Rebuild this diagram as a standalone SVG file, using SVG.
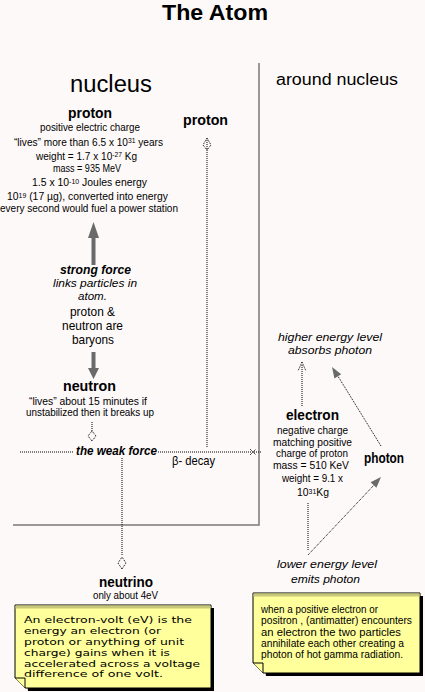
<svg xmlns="http://www.w3.org/2000/svg" width="425" height="692" viewBox="0 0 425 692">
<style>
text{font-family:"Liberation Sans",Arial,sans-serif;fill:#000}
.t{font-size:10.5px}
.b{font-weight:bold;font-size:14.5px}
.i{font-style:italic;font-size:11.5px}
.m{font-size:13px}
.n{font-family:"DejaVu Sans",Verdana,sans-serif;font-size:9.5px}
.n2{font-size:10px}
.sup{font-size:7px}
.dot{fill:none;stroke:#000;stroke-width:1;stroke-dasharray:1 1}
.sep{fill:none;stroke:#7a7a7a;stroke-width:1.5}
.thick{fill:#6a6a6a}
.note{fill:#ffff9c;stroke:#000;stroke-width:1}
.shadow{fill:#000}
.band{fill:#c8c87a}
</style>
<rect width="425" height="692" fill="#fdf9f9"/>

<text x="215" y="20" text-anchor="middle" font-weight="bold" font-size="22" textLength="106" lengthAdjust="spacingAndGlyphs">The Atom</text>
<text x="70" y="92" font-size="23" textLength="82" lengthAdjust="spacingAndGlyphs">nucleus</text>
<text x="276" y="85" font-size="16" textLength="122" lengthAdjust="spacingAndGlyphs">around nucleus</text>

<g id="connectors">
  <path class="sep" d="M259,63 V525 H13"/>
  <path class="dot" d="M207,447 V140"/>
  <path class="dot" d="M207,138 L203,145 L207,150 L211,145 Z"/>
  <path class="thick" d="M93.5,222 L99,238 L95.5,238 L95.5,265 L91.5,265 L91.5,238 L88,238 Z"/>
  <path class="thick" d="M91.5,352 L95.5,352 L95.5,368 L99,368 L93.5,379 L88,368 L91.5,368 Z"/>
  <path class="dot" d="M92,422 V432"/>
  <path class="dot" d="M92,441 L88,436 L92,431 L96,436 Z"/>
  <path class="dot" d="M20,452 H74 M158,452 H262"/>
  <path class="dot" d="M250,449 L256,455 M250,455 L256,449"/>
  <path class="dot" d="M122,458 V556"/>
  <path class="dot" d="M122,569 L118,563 L122,557 L126,563 Z"/>
  <path class="dot" d="M302,406 V364"/>
  <path class="dot" d="M302,362 L298,371 M302,362 L306,371"/>
  <path class="dot" d="M308,503 V550"/>
  <path class="dot" d="M381,446 L336,373"/>
  <polygon class="thick" points="332,367 341.2,374.3 334.4,378.5"/>
  <path class="dot" d="M308,555 L375,484"/>
  <polygon class="thick" points="381,477 376.4,487.7 370.6,482.3"/>
</g>

<g id="proton-nucleus">
  <text class="b" x="90" y="118" text-anchor="middle" textLength="44" lengthAdjust="spacingAndGlyphs">proton</text>
  <text class="t" x="90" y="131" text-anchor="middle" textLength="100" lengthAdjust="spacingAndGlyphs">positive electric charge</text>
  <text class="t" x="14" y="145.5" textLength="149" lengthAdjust="spacingAndGlyphs">“lives” more than 6.5 x 10<tspan class="sup" dy="-2.5">31</tspan><tspan dy="2.5"> years</tspan></text>
  <text class="t" x="36" y="159.5" textLength="101" lengthAdjust="spacingAndGlyphs">weight = 1.7 x 10<tspan class="sup" dy="-2.5">-27</tspan><tspan dy="2.5"> Kg</tspan></text>
  <text class="t" x="53" y="172" textLength="68" lengthAdjust="spacingAndGlyphs">mass = 935 MeV</text>
  <text class="t" x="32" y="186" textLength="115" lengthAdjust="spacingAndGlyphs">1.5 x 10<tspan class="sup" dy="-2.5">-10</tspan><tspan dy="2.5"> Joules energy</tspan></text>
  <text class="t" x="7" y="200" textLength="161" lengthAdjust="spacingAndGlyphs">10<tspan class="sup" dy="-2.5">19</tspan><tspan dy="2.5">  (17 µg), converted into energy</tspan></text>
  <text class="t" x="0" y="212" textLength="178" lengthAdjust="spacingAndGlyphs">every second would fuel a power station</text>
</g>

<g id="proton-right">
  <text class="b" x="183" y="125" textLength="45" lengthAdjust="spacingAndGlyphs">proton</text>
</g>

<g id="strong-force">
  <text x="60" y="274" font-weight="bold" font-style="italic" font-size="12.5" textLength="71" lengthAdjust="spacingAndGlyphs">strong force</text>
  <text class="i" x="53" y="287" textLength="84" lengthAdjust="spacingAndGlyphs">links particles in</text>
  <text class="i" x="78" y="300" textLength="29" lengthAdjust="spacingAndGlyphs">atom.</text>
  <text class="m" x="70" y="316" textLength="45" lengthAdjust="spacingAndGlyphs">proton &amp;</text>
  <text class="m" x="62" y="330" textLength="61" lengthAdjust="spacingAndGlyphs">neutron are</text>
  <text class="m" x="72" y="344" textLength="42" lengthAdjust="spacingAndGlyphs">baryons</text>
</g>

<g id="neutron">
  <text class="b" x="63" y="391" textLength="53" lengthAdjust="spacingAndGlyphs">neutron</text>
  <text class="t" x="29" y="405" textLength="118" lengthAdjust="spacingAndGlyphs">“lives” about 15 minutes if</text>
  <text class="t" x="26" y="416" textLength="128" lengthAdjust="spacingAndGlyphs">unstabilized then it breaks up</text>
</g>

<g id="weak-force">
  <text x="76" y="455" font-weight="bold" font-style="italic" font-size="12.5" textLength="81" lengthAdjust="spacingAndGlyphs">the weak force</text>
</g>

<g id="beta-decay">
  <text class="m" x="172" y="465" textLength="43" lengthAdjust="spacingAndGlyphs">β- decay</text>
</g>

<g id="neutrino">
  <text class="b" x="99" y="587" textLength="54" lengthAdjust="spacingAndGlyphs">neutrino</text>
  <text class="t" x="93" y="599" textLength="65" lengthAdjust="spacingAndGlyphs">only about 4eV</text>
</g>

<g id="note-ev">
  <path class="shadow" d="M18,608 H214 V691 H28 Z"/>
  <path class="note" d="M15,605 H211 V688 H25 L15,678 Z"/>
  <rect class="band" x="15.5" y="605.5" width="195" height="3"/>
  <path d="M15,678 L25,678 L25,688" fill="#ffff9c" stroke="#000"/>
  <text class="n" x="24" y="623" textLength="168" lengthAdjust="spacingAndGlyphs">An electron-volt (eV)  is the</text>
  <text class="n" x="24" y="634" textLength="137" lengthAdjust="spacingAndGlyphs">energy an electron (or</text>
  <text class="n" x="24" y="645" textLength="160" lengthAdjust="spacingAndGlyphs">proton or anything of unit</text>
  <text class="n" x="24" y="656" textLength="146" lengthAdjust="spacingAndGlyphs">charge) gains when it is</text>
  <text class="n" x="24" y="667" textLength="176" lengthAdjust="spacingAndGlyphs">accelerated across a voltage</text>
  <text class="n" x="24" y="677" textLength="139" lengthAdjust="spacingAndGlyphs">difference of one volt.</text>
</g>

<g id="electron">
  <text class="b" x="286" y="420" textLength="53" lengthAdjust="spacingAndGlyphs">electron</text>
  <text class="t" x="277" y="434" textLength="71" lengthAdjust="spacingAndGlyphs">negative charge</text>
  <text class="t" x="273" y="446" textLength="79" lengthAdjust="spacingAndGlyphs">matching positive</text>
  <text class="t" x="276" y="457" textLength="72" lengthAdjust="spacingAndGlyphs">charge of proton</text>
  <text class="t" x="273" y="469" textLength="76" lengthAdjust="spacingAndGlyphs">mass = 510  KeV</text>
  <text class="t" x="282" y="482" textLength="61" lengthAdjust="spacingAndGlyphs">weight = 9.1 x</text>
  <text class="t" x="297" y="496" textLength="32" lengthAdjust="spacingAndGlyphs">10<tspan class="sup" dy="-2.5">31</tspan><tspan dy="2.5">Kg</tspan></text>
</g>

<g id="photon">
  <text class="b" x="364" y="463" textLength="40" lengthAdjust="spacingAndGlyphs">photon</text>
</g>

<g id="higher-level">
  <text class="i" x="278" y="341" textLength="104" lengthAdjust="spacingAndGlyphs">higher energy level</text>
  <text class="i" x="288" y="354" textLength="84" lengthAdjust="spacingAndGlyphs">absorbs photon</text>
</g>

<g id="lower-level">
  <text class="i" x="277" y="568" textLength="100" lengthAdjust="spacingAndGlyphs">lower energy level</text>
  <text class="i" x="291" y="583" textLength="69" lengthAdjust="spacingAndGlyphs">emits photon</text>
</g>

<g id="note-positron">
  <path class="shadow" d="M256,596 H423 V676 H266 Z"/>
  <path class="note" d="M253,593 H420 V673 H263 L253,663 Z"/>
  <rect class="band" x="253.5" y="593.5" width="166" height="3"/>
  <path d="M253,663 L263,663 L263,673" fill="#ffff9c" stroke="#000"/>
  <text class="n2" x="261" y="613" textLength="117" lengthAdjust="spacingAndGlyphs">when a positive electron or</text>
  <text class="n2" x="261" y="624" textLength="151" lengthAdjust="spacingAndGlyphs">positron , (antimatter) encounters</text>
  <text class="n2" x="261" y="636" textLength="140" lengthAdjust="spacingAndGlyphs">an electron the two particles</text>
  <text class="n2" x="261" y="647" textLength="143" lengthAdjust="spacingAndGlyphs">annihilate each other creating a</text>
  <text class="n2" x="261" y="658" textLength="142" lengthAdjust="spacingAndGlyphs">photon of hot gamma radiation.</text>
</g>
</svg>
